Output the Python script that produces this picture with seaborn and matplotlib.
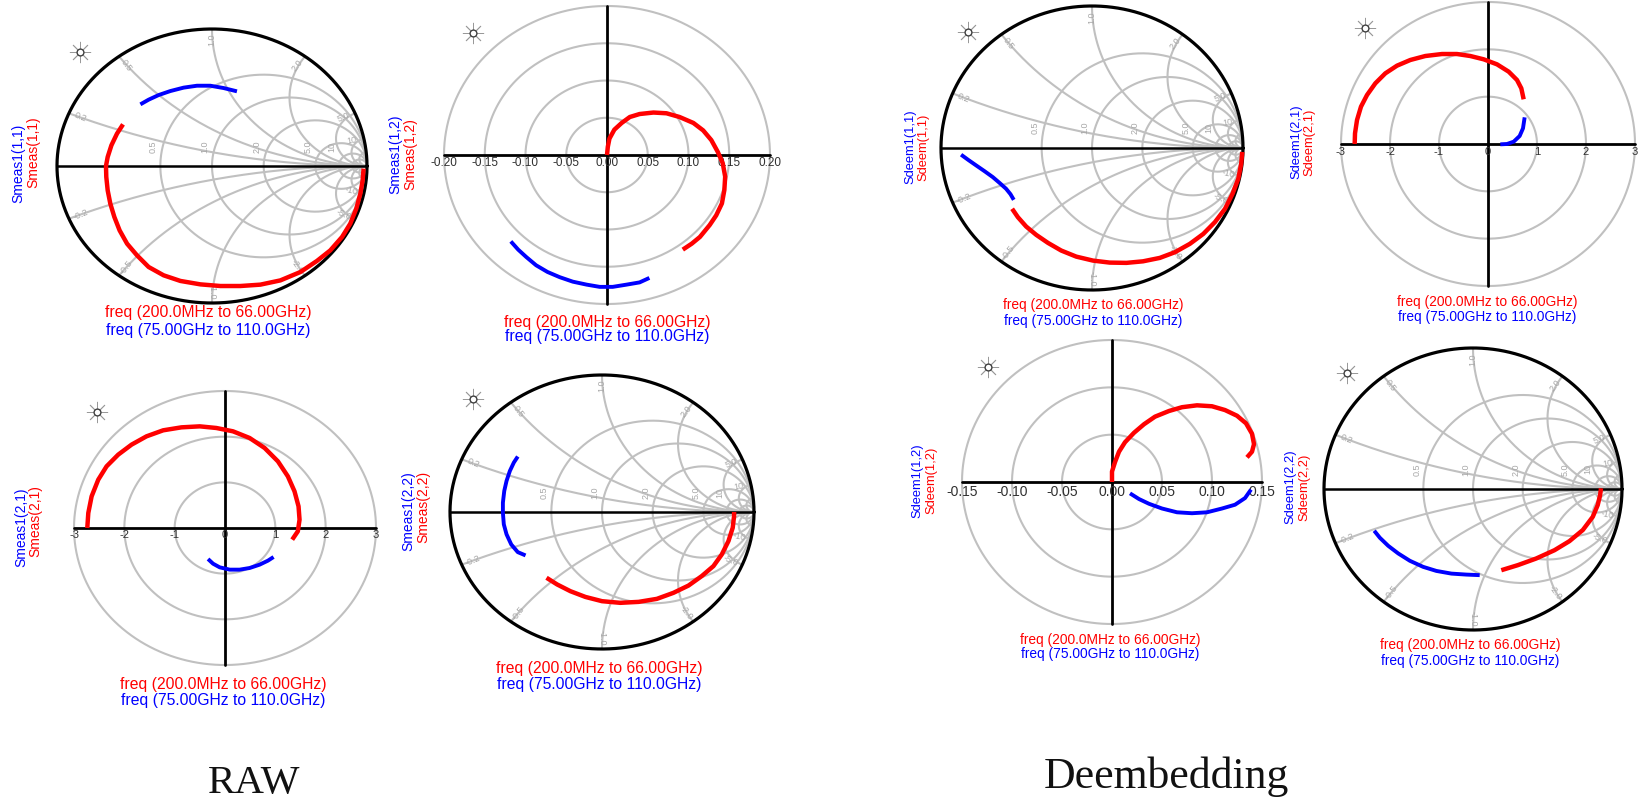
import numpy as np
import pandas as pd
import matplotlib
matplotlib.use("Agg")
import matplotlib.pyplot as plt
import seaborn as sns

sns.set_theme(style="white")
plt.rcParams['font.family'] = ['Liberation Sans', 'DejaVu Sans']

# ---------------- measured reflection / transmission traces ----------------
# (real, imag) pairs; "lo" = 200 MHz..66 GHz sweep, "hi" = 75..110 GHz sweep
raw_s11_lo = [(-0.574, 0.304), (-0.613, 0.236), (-0.649, 0.151), (-0.673, 0.066), (-0.684, 0.0),
              (-0.682, -0.080), (-0.673, -0.178), (-0.656, -0.275), (-0.630, -0.372), (-0.596, -0.470),
              (-0.548, -0.567), (-0.484, -0.652), (-0.409, -0.737), (-0.312, -0.798), (-0.204, -0.839),
              (-0.075, -0.864), (0.054, -0.876), (0.183, -0.876), (0.312, -0.866), (0.441, -0.835),
              (0.570, -0.774), (0.677, -0.693), (0.763, -0.616), (0.839, -0.518), (0.892, -0.421),
              (0.931, -0.311), (0.957, -0.202), (0.972, -0.105), (0.978, -0.019)]
raw_s11_hi = [(-0.462, 0.450), (-0.409, 0.484), (-0.344, 0.518), (-0.269, 0.547), (-0.183, 0.572),
              (-0.097, 0.586), (-0.011, 0.586), (0.075, 0.569), (0.161, 0.545)]

raw_s12_lo = [(0.0, 0.0), (0.001, 0.011), (0.003, 0.022), (0.009, 0.034), (0.018, 0.043), (0.028, 0.051),
              (0.040, 0.055), (0.057, 0.057), (0.073, 0.056), (0.089, 0.051), (0.106, 0.043),
              (0.118, 0.033), (0.128, 0.020), (0.136, 0.004), (0.142, -0.011), (0.145, -0.029),
              (0.144, -0.047), (0.141, -0.065), (0.134, -0.081), (0.126, -0.094), (0.114, -0.110),
              (0.104, -0.119), (0.093, -0.127)]
raw_s12_hi = [(-0.118, -0.116), (-0.109, -0.127), (-0.099, -0.137), (-0.087, -0.148), (-0.073, -0.157),
              (-0.058, -0.164), (-0.042, -0.170), (-0.025, -0.174), (-0.009, -0.177), (0.007, -0.177),
              (0.024, -0.174), (0.040, -0.171), (0.052, -0.165)]

raw_s21_lo = [(-2.736, 0.0), (-2.716, 0.328), (-2.650, 0.693), (-2.518, 1.058), (-2.353, 1.350),
              (-2.122, 1.606), (-1.857, 1.825), (-1.560, 2.007), (-1.229, 2.139), (-0.866, 2.204),
              (-0.502, 2.226), (-0.172, 2.190), (0.159, 2.117), (0.489, 1.971), (0.787, 1.752),
              (1.051, 1.460), (1.249, 1.131), (1.381, 0.803), (1.461, 0.474), (1.481, 0.182),
              (1.447, -0.073), (1.335, -0.255)]
raw_s21_hi = [(-0.337, -0.679), (-0.238, -0.781), (-0.106, -0.861), (0.093, -0.912), (0.291, -0.912),
              (0.489, -0.876), (0.687, -0.803), (0.853, -0.715), (0.965, -0.635)]

raw_s22_lo = [(-0.365, -0.480), (-0.295, -0.529), (-0.208, -0.578), (-0.109, -0.620), (0.0, -0.651),
              (0.120, -0.663), (0.241, -0.656), (0.361, -0.634), (0.470, -0.590), (0.569, -0.537),
              (0.656, -0.468), (0.733, -0.395), (0.788, -0.310), (0.832, -0.212), (0.860, -0.115),
              (0.869, -0.029), (0.869, 0.0)]
raw_s22_hi = [(-0.554, 0.405), (-0.580, 0.361), (-0.606, 0.300), (-0.628, 0.227), (-0.643, 0.154),
              (-0.652, 0.068), (-0.652, -0.005), (-0.646, -0.090), (-0.628, -0.163), (-0.597, -0.237),
              (-0.554, -0.293), (-0.503, -0.317)]

deem_s11_lo = [(-0.529, -0.428), (-0.491, -0.487), (-0.436, -0.553), (-0.369, -0.612), (-0.292, -0.668),
               (-0.204, -0.722), (-0.104, -0.765), (0.007, -0.793), (0.117, -0.807), (0.228, -0.809),
               (0.338, -0.798), (0.449, -0.774), (0.549, -0.734), (0.648, -0.675), (0.737, -0.605),
               (0.814, -0.522), (0.881, -0.428), (0.931, -0.322), (0.969, -0.216), (0.988, -0.111),
               (0.995, -0.028)]
deem_s11_hi = [(-0.867, -0.047), (-0.818, -0.085), (-0.768, -0.122), (-0.712, -0.163), (-0.657, -0.205),
               (-0.612, -0.246), (-0.569, -0.287), (-0.540, -0.325), (-0.518, -0.365)]

deem_s21_lo = [(-2.721, 0.0), (-2.714, 0.225), (-2.673, 0.507), (-2.592, 0.789), (-2.469, 1.035),
               (-2.299, 1.282), (-2.095, 1.493), (-1.857, 1.655), (-1.585, 1.775), (-1.279, 1.859),
               (-0.939, 1.901), (-0.633, 1.901), (-0.361, 1.859), (-0.088, 1.789), (0.184, 1.683),
               (0.422, 1.528), (0.592, 1.352), (0.680, 1.176), (0.728, 0.944)]
deem_s21_hi = [(0.252, -0.007), (0.388, 0.0), (0.524, 0.049), (0.646, 0.169), (0.714, 0.331), (0.748, 0.563)]

deem_s12_lo = [(0.0, 0.0), (0.0, 0.011), (0.003, 0.021), (0.007, 0.032), (0.013, 0.042), (0.022, 0.052),
               (0.032, 0.061), (0.043, 0.069), (0.057, 0.075), (0.070, 0.079), (0.085, 0.081),
               (0.100, 0.080), (0.113, 0.076), (0.125, 0.070), (0.134, 0.062), (0.140, 0.051),
               (0.142, 0.040), (0.140, 0.032), (0.135, 0.026)]
deem_s12_hi = [(0.018, -0.012), (0.027, -0.018), (0.037, -0.023), (0.050, -0.028), (0.065, -0.032),
               (0.080, -0.033), (0.095, -0.032), (0.110, -0.028), (0.123, -0.024), (0.133, -0.017),
               (0.139, -0.008)]

deem_s22_lo = [(0.190, -0.576), (0.301, -0.540), (0.424, -0.493), (0.547, -0.434), (0.647, -0.370),
               (0.737, -0.291), (0.804, -0.197), (0.837, -0.114), (0.853, -0.043), (0.859, 0.005)]
deem_s22_hi = [(-0.663, -0.296), (-0.625, -0.346), (-0.569, -0.403), (-0.502, -0.457), (-0.424, -0.509),
               (-0.335, -0.552), (-0.246, -0.581), (-0.145, -0.600), (-0.045, -0.607), (0.045, -0.611)]

freq_lo_text = "freq (200.0MHz to 66.00GHz)"
freq_hi_text = "freq (75.00GHz to 110.0GHz)"

ticks_020 = [-0.20, -0.15, -0.10, -0.05, 0.00, 0.05, 0.10, 0.15, 0.20]
ticks_015 = [-0.15, -0.10, -0.05, 0.00, 0.05, 0.10, 0.15]
ticks_3 = [-3, -2, -1, 0, 1, 2, 3]

smith_r = [0.5, 1.0, 2.0, 5.0, 10.0, 20.0]
smith_x = [0.2, 0.5, 1.0, 2.0, 5.0, 10.0, 20.0]

RED = "#ff0000"
BLUE = "#0000ff"
GRID = "#c0c0c0"

W, H = 1642, 802
fig = plt.figure(figsize=(W / 100, H / 100), dpi=100)
fig.patch.set_facecolor("white")

bg = fig.add_axes([0, 0, 1, 1])
bg.set_xlim(0, W)
bg.set_ylim(H, 0)
bg.set_axis_off()


def chart_axes(cx, cy, rx, ry, R, m=1.12):
    ax = fig.add_axes([(cx - rx * m) / W, 1 - (cy + ry * m) / H, 2 * rx * m / W, 2 * ry * m / H])
    ax.set_xlim(-R * m, R * m)
    ax.set_ylim(-R * m, R * m)
    ax.set_axis_off()
    ax.patch.set_alpha(0)
    return ax


def smith_grid(ax):
    t = np.linspace(0, 2 * np.pi, 500)
    for r in smith_r:
        c, rho = r / (1 + r), 1 / (1 + r)
        ax.plot(c + rho * np.cos(t), rho * np.sin(t), color=GRID, lw=1.5, zorder=1)
    rr = np.concatenate([[0.0], np.logspace(-3, 3.5, 800)])
    for x in smith_x:
        for s in (1, -1):
            g = (rr + 1j * s * x - 1) / (rr + 1j * s * x + 1)
            ax.plot(g.real, g.imag, color=GRID, lw=1.5, zorder=1)
    # resistance labels along the real axis
    for r in smith_r[:5]:
        lab = "10" if r >= 10 else f"{r:.1f}"
        ax.text((r - 1) / (r + 1) - 0.045, 0.14, lab, rotation=90, fontsize=6.5,
                color="#a8a8a8", ha="center", va="center")
    # reactance labels near the rim
    for x in smith_x[:6]:
        for s in (1, -1):
            g = ((x * x - 1) + 2j * s * x) / (x * x + 1)
            ang = np.degrees(np.angle(g))
            rot = ang if abs(ang) <= 90 else ang - 180 * np.sign(ang)
            lab = ("10" if x >= 10 else f"{x:.1f}")
            if s < 0:
                lab = "-" + lab
            ax.text(0.92 * g.real, 0.92 * g.imag, lab, rotation=rot, fontsize=6.5,
                    color="#a8a8a8", ha="center", va="center", rotation_mode="anchor")
    ax.plot(np.cos(t), np.sin(t), color="black", lw=2.3, zorder=3)
    ax.plot([-1, 1], [0, 0], color="black", lw=1.8, zorder=3)


def polar_grid(ax, R, rings, ticks, fmt, fs, off):
    t = np.linspace(0, 2 * np.pi, 500)
    for q in rings:
        ax.plot(q * np.cos(t), q * np.sin(t), color=GRID, lw=1.5, zorder=1)
    ax.plot([-R, R], [0, 0], color="black", lw=2.0, zorder=3)
    ax.plot([0, 0], [-R, R], color="black", lw=2.0, zorder=3)
    for v in ticks:
        ax.annotate(fmt.format(v), (v, 0), xytext=(0, -off * 0.72), textcoords="offset points",
                    ha="center", va="center", fontsize=fs, color="#303030", zorder=4)


def trace(ax, pts, color, lw):
    df = pd.DataFrame(pts, columns=["re", "im"])
    sns.lineplot(data=df, x="re", y="im", sort=False, estimator=None, color=color, lw=lw,
                 ax=ax, legend=False, zorder=5, solid_capstyle="butt", solid_joinstyle="round")
    ax.set_axis_off()


charts = [
    dict(kind="smith", c=(212, 166), r=(155, 137), lo=raw_s11_lo, hi=raw_s11_hi,
         names=("Smeas1(1,1)", "Smeas(1,1)"), labx=(18, 33), laby=(163, 152),
         fx=208, fy=(313, 330), ffs=11.3, lfs=10, icon=(80, 52)),
    dict(kind="polar", R=0.2, rings=[0.05, 0.10, 0.15, 0.20], ticks=ticks_020, fmt="{:.2f}", tfs=8.5, off=8,
         c=(607, 155), r=(163, 149), lo=raw_s12_lo, hi=raw_s12_hi,
         names=("Smeas1(1,2)", "Smeas(1,2)"), labx=(395, 410), laby=(154, 154),
         fx=607, fy=(322, 337), ffs=11.3, lfs=10, icon=(473, 33)),
    dict(kind="polar", R=3, rings=[1, 2, 3], ticks=ticks_3, fmt="{:d}", tfs=8, off=7,
         c=(225, 528), r=(151, 137), lo=raw_s21_lo, hi=raw_s21_hi,
         names=("Smeas1(2,1)", "Smeas(2,1)"), labx=(21, 35), laby=(527, 521),
         fx=223, fy=(684, 701), ffs=11.3, lfs=10, icon=(97, 412)),
    dict(kind="smith", c=(602, 512), r=(152, 137), lo=raw_s22_lo, hi=raw_s22_hi,
         names=("Smeas1(2,2)", "Smeas(2,2)"), labx=(408, 423), laby=(511, 507),
         fx=599, fy=(669, 684), ffs=11.3, lfs=10, icon=(473, 399)),
    dict(kind="smith", c=(1092, 148), r=(151, 142), lo=deem_s11_lo, hi=deem_s11_hi,
         names=("Sdeem1(1,1)", "Sdeem(1,1)"), labx=(910, 923), laby=(147, 147),
         fx=1093, fy=(305, 321), ffs=9.9, lfs=9.3, icon=(968, 32)),
    dict(kind="polar", R=3, rings=[1, 2, 3], ticks=ticks_3, fmt="{:d}", tfs=8, off=8,
         c=(1488, 144), r=(147, 142), lo=deem_s21_lo, hi=deem_s21_hi,
         names=("Sdeem1(2,1)", "Sdeem(2,1)"), labx=(1296, 1309), laby=(142, 142),
         fx=1487, fy=(302, 317), ffs=9.9, lfs=9.3, icon=(1365, 28)),
    dict(kind="polar", R=0.15, rings=[0.05, 0.10, 0.15], ticks=ticks_015, fmt="{:.2f}", tfs=10, off=10,
         c=(1112, 482), r=(150, 142), lo=deem_s12_lo, hi=deem_s12_hi,
         names=("Sdeem1(1,2)", "Sdeem(1,2)"), labx=(917, 931), laby=(481, 480),
         fx=1110, fy=(640, 654), ffs=9.9, lfs=9.3, icon=(988, 367)),
    dict(kind="smith", c=(1473, 489), r=(149, 141), lo=deem_s22_lo, hi=deem_s22_hi,
         names=("Sdeem1(2,2)", "Sdeem(2,2)"), labx=(1290, 1304), laby=(487, 487),
         fx=1470, fy=(645, 661), ffs=9.9, lfs=9.3, icon=(1347, 373)),
]

for ch in charts:
    cx, cy = ch["c"]
    rx, ry = ch["r"]
    if ch["kind"] == "smith":
        ax = chart_axes(cx, cy, rx, ry, 1.0)
        smith_grid(ax)
    else:
        ax = chart_axes(cx, cy, rx, ry, ch["R"])
        polar_grid(ax, ch["R"], ch["rings"], ch["ticks"], ch["fmt"], ch["tfs"], ch["off"])
    xl, yl = ax.get_xlim(), ax.get_ylim()
    trace(ax, ch["lo"], RED, 3.2)
    trace(ax, ch["hi"], BLUE, 2.8)
    ax.set_xlim(xl)
    ax.set_ylim(yl)

    # trace names, stacked vertically on the left
    bg.text(ch["labx"][0], ch["laby"][0], ch["names"][0], rotation=90, color=BLUE,
            fontsize=ch["lfs"], ha="center", va="center")
    bg.text(ch["labx"][1], ch["laby"][1], ch["names"][1], rotation=90, color=RED,
            fontsize=ch["lfs"], ha="center", va="center")
    # sweep ranges below the chart
    bg.text(ch["fx"], ch["fy"][0], freq_lo_text, color=RED, fontsize=ch["ffs"], ha="center", va="center")
    bg.text(ch["fx"], ch["fy"][1], freq_hi_text, color=BLUE, fontsize=ch["ffs"], ha="center", va="center")
    # marker glyph at the upper left of each chart
    ix, iy = ch["icon"]
    bg.scatter([ix], [iy], marker=(8, 2, 0), s=220, lw=0.6, color="#999999", zorder=5)
    bg.scatter([ix], [iy], marker="o", s=24, facecolor="white", edgecolor="#404040", lw=1.0, zorder=6)

bg.text(254, 783, "RAW", fontsize=29.5, family="Liberation Serif", ha="center", va="center", color="#111111")
bg.text(1166, 777, "Deembedding", fontsize=31.5, family="Liberation Serif", ha="center", va="center",
        color="#111111")

fig.savefig("out.png", dpi=100, facecolor="white")
